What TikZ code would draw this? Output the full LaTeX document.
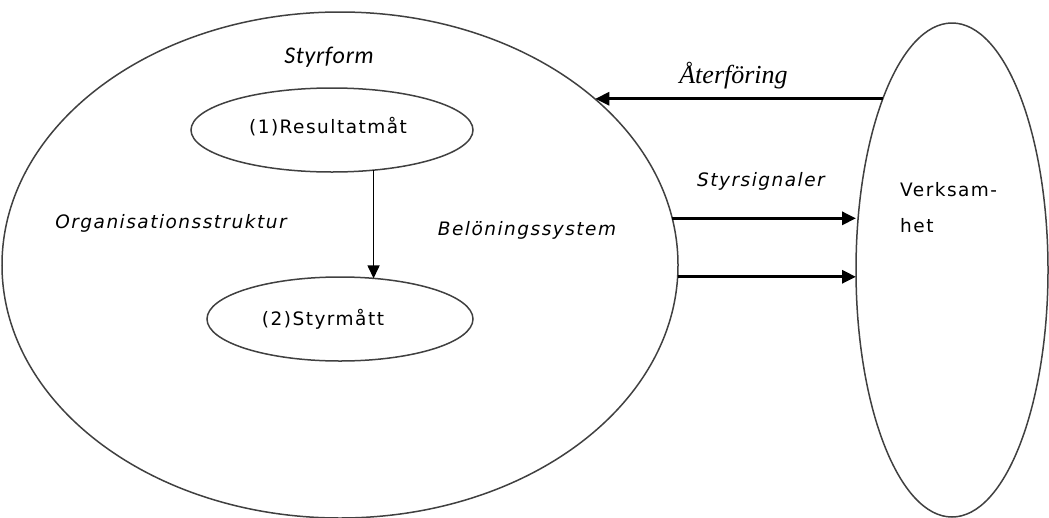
\documentclass[tikz,border=0pt]{standalone}
\usepackage{fontspec}
\usetikzlibrary{shapes.geometric,arrows.meta}
\newfontfamily\lblfont{DejaVu Sans}[LetterSpace=8]
\newfontfamily\formfont{Carlito}[LetterSpace=3]
\newfontfamily\romfont{Liberation Serif}
\begin{document}
\begin{tikzpicture}[x=1pt,y=-1pt,
  ring/.style={draw=black!75, line width=1.5pt, ellipse, inner sep=0pt, outer sep=0pt},
  txt/.style={font=\lblfont\fontsize{18.5}{22}\selectfont, inner sep=0pt, anchor=base},
  itxt/.style={txt, font=\lblfont\itshape\fontsize{18.5}{22}\selectfont},
  bigarrow/.style={line width=3pt, -{Triangle[length=14pt,width=13pt]}},
  thinarrow/.style={line width=1.5pt, -{Triangle[length=13pt,width=12pt]}}]
\useasboundingbox (0,0) rectangle (1049,517);

% outer shapes
\node[ring, minimum width=676pt, minimum height=506pt] (org) at (340,265) {};
\node[ring, minimum width=192pt, minimum height=494pt] (verk) at (952,270) {};

% inner measures
\node[ring, minimum width=282pt, minimum height=84pt] (res) at (332,130) {};
\node[ring, minimum width=266pt, minimum height=84pt] (sty) at (340,319) {};

% labels
\node[txt] (reslbl) at (328,133) {(1)Resultatmåt};
\node[txt] (stylbl) at (323,325) {(2)Styrmått};
\node[inner sep=0pt, anchor=base, font=\formfont\itshape\fontsize{24}{28}\selectfont] (form) at (329,63) {Styrform};
\node[itxt] (orglbl) at (171,228.5) {Organisationsstruktur};
\node[itxt] (bel) at (527,235) {Belöningssystem};
\node[itxt] (sig) at (761,186) {Styrsignaler};
\node[inner sep=0pt, anchor=base, font=\romfont\itshape\fontsize{26}{30}\selectfont] (ater) at (733.5,83) {Återföring};
\node[inner sep=0pt, anchor=north west, align=left, font=\lblfont\fontsize{18.5}{36}\selectfont] (verklbl) at (900,182) {Verksam-\\het};

% connectors
\draw[thinarrow] (res.-44.4) -- (res.-44.4 |- sty.50.96);
\draw[bigarrow] (verk.112.1) -- (org.33.06 |- verk.112.1);
\draw[bigarrow] (org.8.58) -- (verk.west |- org.8.58);
\draw[bigarrow] (org.-2.04) -- (verk.west |- org.-2.04);
\end{tikzpicture}
\end{document}
